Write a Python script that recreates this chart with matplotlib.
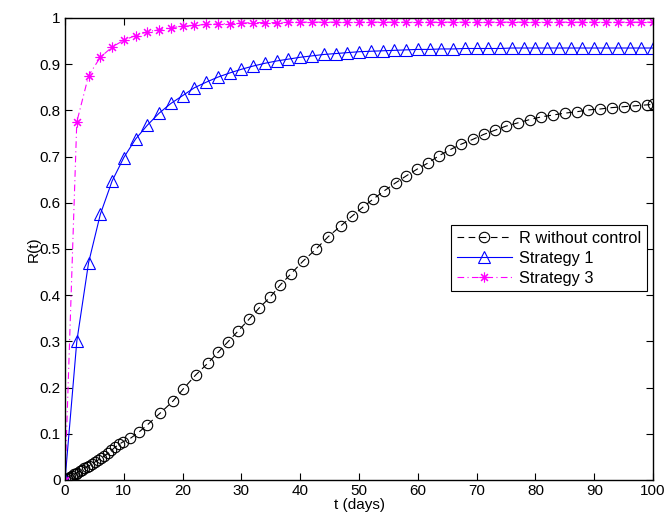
import matplotlib
matplotlib.use("Agg")
import matplotlib.pyplot as plt

# ---- data ----
t_black = [0, 0.3, 0.6, 0.9, 1.2, 1.5, 1.8, 2.1, 2.5, 2.9, 3.3, 3.7, 4.1, 4.6, 5.1,
           5.6, 6.1, 6.7, 7.3, 7.9, 8.5, 9.2, 9.9, 11.1, 12.6, 13.9, 16.2, 18.3,
           20.1, 22.2, 24.3, 26.0, 27.7, 29.4, 31.3, 33.0, 34.9, 36.6, 38.4, 40.5,
           42.7, 44.7, 46.9, 48.8, 50.7, 52.4, 54.3, 56.2, 58.0, 59.9, 61.7, 63.6,
           65.5, 67.4, 69.3, 71.2, 73.1, 75.0, 77.0, 79.0, 81.0, 83.0, 85.0, 87.0,
           89.0, 91.0, 93.0, 95.0, 97.0, 99.0, 100.0]
r_black = [0.000, 0.002, 0.005, 0.007, 0.009, 0.012, 0.014, 0.016, 0.019, 0.022,
           0.025, 0.028, 0.031, 0.035, 0.039, 0.043, 0.047, 0.052, 0.058, 0.064,
           0.071, 0.077, 0.083, 0.090, 0.104, 0.118, 0.145, 0.170, 0.197, 0.227,
           0.253, 0.276, 0.299, 0.322, 0.348, 0.372, 0.396, 0.422, 0.446, 0.474,
           0.500, 0.526, 0.550, 0.571, 0.591, 0.608, 0.626, 0.643, 0.658, 0.673,
           0.686, 0.702, 0.715, 0.727, 0.737, 0.748, 0.757, 0.766, 0.773, 0.780,
           0.786, 0.790, 0.794, 0.797, 0.801, 0.803, 0.806, 0.808, 0.810, 0.812,
           0.813]

t_strat = [0, 2, 4, 6, 8, 10, 12, 14, 16, 18, 20, 22, 24, 26, 28, 30, 32, 34, 36,
           38, 40, 42, 44, 46, 48, 50, 52, 54, 56, 58, 60, 62, 64, 66, 68, 70, 72,
           74, 76, 78, 80, 82, 84, 86, 88, 90, 92, 94, 96, 98, 100]
r_strategy1 = [0.000, 0.300, 0.470, 0.575, 0.647, 0.698, 0.738, 0.768, 0.794, 0.815,
               0.832, 0.849, 0.861, 0.872, 0.881, 0.889, 0.896, 0.902, 0.907, 0.911,
               0.915, 0.918, 0.921, 0.923, 0.925, 0.927, 0.928, 0.929, 0.930, 0.931,
               0.932, 0.932, 0.933, 0.933, 0.934, 0.934, 0.934, 0.934, 0.935, 0.935,
               0.935, 0.935, 0.935, 0.935, 0.935, 0.935, 0.935, 0.935, 0.935, 0.935,
               0.935]
r_strategy3 = [0.000, 0.775, 0.875, 0.915, 0.937, 0.952, 0.962, 0.970, 0.975, 0.979,
               0.982, 0.984, 0.986, 0.987, 0.988, 0.989, 0.990, 0.990, 0.990, 0.991,
               0.991, 0.991, 0.991, 0.991, 0.991, 0.991, 0.991, 0.991, 0.991, 0.991,
               0.991, 0.991, 0.991, 0.991, 0.991, 0.991, 0.991, 0.991, 0.991, 0.991,
               0.991, 0.991, 0.991, 0.991, 0.991, 0.991, 0.991, 0.991, 0.991, 0.991,
               0.991]

labels = ["R without control", "Strategy 1", "Strategy 3"]
x_ticks = [0, 10, 20, 30, 40, 50, 60, 70, 80, 90, 100]
y_ticks = [0, 0.1, 0.2, 0.3, 0.4, 0.5, 0.6, 0.7, 0.8, 0.9, 1]
y_ticklabels = ["0", "0.1", "0.2", "0.3", "0.4", "0.5", "0.6", "0.7", "0.8", "0.9", "1"]

# ---- plot ----
plt.rcParams['font.family'] = ['Liberation Sans', 'DejaVu Sans']
fig = plt.figure(figsize=(6.67, 5.26), dpi=100)
ax = fig.add_axes([0.0975, 0.0875, 0.8816, 0.8783])

ax.plot(t_black, r_black, color='black', linestyle=(0, (6, 4)), linewidth=0.8,
        marker='o', markersize=7.5, markerfacecolor='none', markeredgewidth=0.8,
        label=labels[0])
ax.plot(t_strat, r_strategy1, color='blue', linestyle='-', linewidth=0.8,
        marker='^', markersize=8, markerfacecolor='none', markeredgewidth=0.8,
        label=labels[1])
ax.plot(t_strat, r_strategy3, color='magenta', linestyle=(0, (6, 3, 1, 3)), linewidth=0.8,
        marker=(8, 2, 0), markersize=7, markeredgewidth=0.8,
        label=labels[2])

ax.set_xlim(0, 100)
ax.set_ylim(0, 1)
ax.set_xticks(x_ticks)
ax.set_yticks(y_ticks)
ax.set_yticklabels(y_ticklabels)
ax.tick_params(direction='in', top=True, right=True, length=5, width=0.8,
               labelsize=11, pad=3)
for s in ax.spines.values():
    s.set_linewidth(1.0)

ax.set_xlabel("t (days)", fontsize=11, labelpad=0)
ax.set_ylabel("R(t)", fontsize=11, labelpad=-1)

leg = ax.legend(loc='upper left', bbox_to_anchor=(0.656, 0.552), fontsize=11.8,
                frameon=True, fancybox=False, edgecolor='black', framealpha=1,
                handlelength=3.4, borderaxespad=0, borderpad=0.35, labelspacing=0.3,
                handletextpad=0.4)
leg.get_frame().set_linewidth(0.8)

fig.savefig("out.png", dpi=100)
